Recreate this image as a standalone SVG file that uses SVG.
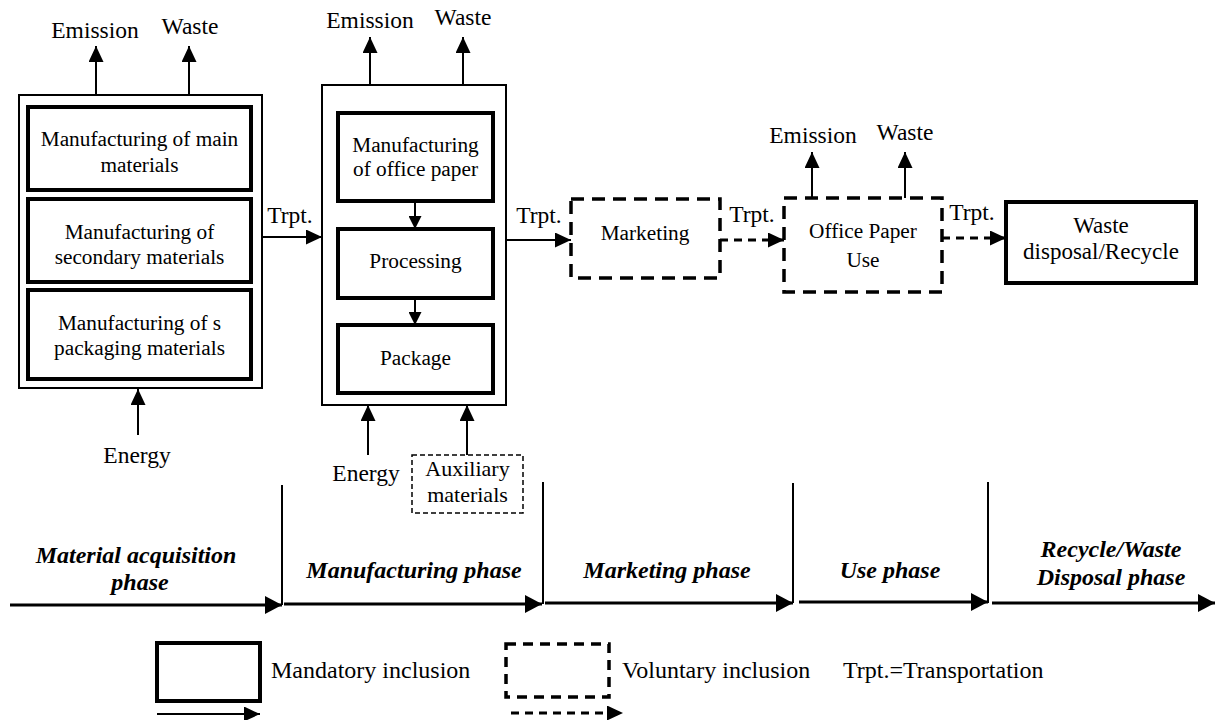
<svg xmlns="http://www.w3.org/2000/svg" width="1215" height="720" viewBox="0 0 1215 720" font-family="'Liberation Serif', 'Times New Roman', 'DejaVu Serif', serif">
<style>
text{font-family:'Liberation Serif','Times New Roman','DejaVu Serif',serif;fill:#000}
.lb{font-size:23.5px;text-anchor:middle}
.ax{font-size:22px;text-anchor:middle}
.bx{font-size:21.3px;text-anchor:middle}
.bxl{font-size:23px;text-anchor:middle}
.ph{font-size:24px;font-weight:bold;font-style:italic;text-anchor:middle}
.lg{font-size:24px}
.thin{fill:#fff;stroke:#000;stroke-width:2}
.thick{fill:#fff;stroke:#000;stroke-width:4}
.dash{fill:#fff;stroke:#000;stroke-width:3.5;stroke-dasharray:13 8}
.ln{fill:none;stroke:#000;stroke-width:2}
.dl{fill:none;stroke:#000;stroke-width:3;stroke-dasharray:8 6}
.tl{fill:none;stroke:#000;stroke-width:3}
</style>
<defs>
<marker id="ah" markerUnits="userSpaceOnUse" viewBox="0 0 16 15" refX="16" refY="7.5" markerWidth="16" markerHeight="15" orient="auto"><path d="M0,0 L16,7.5 L0,15 z" fill="#000"/></marker>
<marker id="ahs" markerUnits="userSpaceOnUse" viewBox="0 0 13 13" refX="13" refY="6.5" markerWidth="13" markerHeight="13" orient="auto"><path d="M0,0 L13,6.5 L0,13 z" fill="#000"/></marker>
<marker id="aht" markerUnits="userSpaceOnUse" viewBox="0 0 17 18" refX="17" refY="9" markerWidth="17" markerHeight="18" orient="auto"><path d="M0,0 L17,9 L0,18 z" fill="#000"/></marker>
</defs>
<rect width="1215" height="720" fill="#fff"/>

<g id="material-acquisition">
<rect class="thin" x="19" y="95" width="243" height="293"/>
<rect class="thick" x="28" y="107" width="223" height="83"/>
<text class="bx" x="139.5" y="146">Manufacturing of main</text>
<text class="bx" x="139.5" y="172">materials</text>
<rect class="thick" x="28" y="199" width="223" height="83"/>
<text class="bx" x="139.5" y="239">Manufacturing of</text>
<text class="bx" x="139.5" y="264">secondary materials</text>
<rect class="thick" x="28" y="290" width="223" height="89"/>
<text class="bx" x="139.5" y="330">Manufacturing of s</text>
<text class="bx" x="139.5" y="355">packaging materials</text>
</g>

<g id="manufacturing">
<rect class="thin" x="322" y="85" width="184" height="320"/>
<rect class="thick" x="338" y="113" width="155" height="88"/>
<text class="bx" x="415.5" y="152">Manufacturing</text>
<text class="bx" x="415.5" y="176">of office paper</text>
<rect class="thick" x="338" y="229" width="155" height="69"/>
<text class="bx" x="415.5" y="268">Processing</text>
<rect class="thick" x="338" y="325" width="155" height="68"/>
<text class="bx" x="415.5" y="365">Package</text>
</g>

<g id="marketing">
<rect class="dash" x="571" y="199" width="149" height="79"/>
<text class="bx" x="645" y="240">Marketing</text>
</g>

<g id="use">
<rect class="dash" x="784" y="198" width="158" height="94"/>
<text class="bx" x="863" y="238">Office Paper</text>
<text class="bx" x="863" y="267">Use</text>
</g>

<g id="waste-disposal">
<rect class="thick" x="1006" y="202" width="190" height="81"/>
<text class="bxl" x="1101" y="233">Waste</text>
<text class="bxl" x="1101" y="259">disposal/Recycle</text>
</g>

<g id="auxiliary">
<rect x="412" y="455" width="111" height="58" fill="#fff" stroke="#000" stroke-width="1.5" stroke-dasharray="5 3"/>
<text class="ax" x="467.5" y="476">Auxiliary</text>
<text class="ax" x="467.5" y="502">materials</text>
</g>

<g id="labels">
<text class="lb" x="95" y="38">Emission</text>
<text class="lb" x="190" y="34">Waste</text>
<text class="lb" x="137" y="463">Energy</text>
<text class="lb" x="370" y="28">Emission</text>
<text class="lb" x="463" y="25">Waste</text>
<text class="lb" x="366" y="481">Energy</text>
<text class="lb" x="813" y="143">Emission</text>
<text class="lb" x="905" y="140">Waste</text>
<text class="lb" x="290" y="223">Trpt.</text>
<text class="lb" x="539" y="223">Trpt.</text>
<text class="lb" x="752" y="222">Trpt.</text>
<text class="lb" x="972" y="220">Trpt.</text>
</g>

<g id="connectors">
<line class="ln" x1="96" y1="95" x2="96" y2="46" marker-end="url(#ah)"/>
<line class="ln" x1="189" y1="95" x2="189" y2="46" marker-end="url(#ah)"/>
<line class="ln" x1="138" y1="435" x2="138" y2="389" marker-end="url(#ah)"/>
<line class="ln" x1="262" y1="237" x2="322" y2="237" marker-end="url(#ah)"/>
<line class="ln" x1="370" y1="85" x2="370" y2="37" marker-end="url(#ah)"/>
<line class="ln" x1="463" y1="85" x2="463" y2="37" marker-end="url(#ah)"/>
<line class="ln" x1="415" y1="201" x2="415" y2="229" marker-end="url(#ahs)"/>
<line class="ln" x1="415" y1="298" x2="415" y2="325" marker-end="url(#ahs)"/>
<line class="ln" x1="368" y1="455" x2="368" y2="405" marker-end="url(#ah)"/>
<line class="ln" x1="467" y1="455" x2="467" y2="405" marker-end="url(#ah)"/>
<line class="ln" x1="506" y1="240" x2="571" y2="240" marker-end="url(#ah)"/>
<line class="dl" x1="720" y1="240" x2="784" y2="240" marker-end="url(#ah)"/>
<line class="ln" x1="812" y1="198" x2="812" y2="152" marker-end="url(#ah)"/>
<line class="ln" x1="905" y1="198" x2="905" y2="152" marker-end="url(#ah)"/>
<line class="dl" x1="942" y1="238" x2="1006" y2="238" marker-end="url(#ah)"/>
</g>

<g id="timeline">
<line class="ln" x1="282" y1="485" x2="282" y2="605"/>
<line class="ln" x1="543" y1="482" x2="543" y2="604"/>
<line class="ln" x1="793" y1="483" x2="793" y2="603"/>
<line class="ln" x1="988" y1="482" x2="988" y2="603"/>
<line class="tl" x1="10" y1="605" x2="282" y2="605" marker-end="url(#aht)"/>
<line class="tl" x1="284" y1="604" x2="542" y2="604" marker-end="url(#aht)"/>
<line class="tl" x1="545" y1="603" x2="793" y2="603" marker-end="url(#aht)"/>
<line class="tl" x1="799" y1="602" x2="988" y2="602" marker-end="url(#aht)"/>
<line class="tl" x1="992" y1="603" x2="1215" y2="603" marker-end="url(#aht)"/>
<text class="ph" x="136" y="563">Material acquisition</text>
<text class="ph" x="140" y="590">phase</text>
<text class="ph" x="414" y="578">Manufacturing phase</text>
<text class="ph" x="667" y="578">Marketing phase</text>
<text class="ph" x="890" y="578">Use phase</text>
<text class="ph" x="1111" y="557">Recycle/Waste</text>
<text class="ph" x="1111" y="585">Disposal phase</text>
</g>

<g id="legend">
<rect class="thick" x="157" y="643" width="103" height="58"/>
<line class="ln" x1="157" y1="714" x2="260" y2="714" marker-end="url(#ah)"/>
<text class="lg" x="271" y="678">Mandatory inclusion</text>
<rect x="506" y="644" width="103" height="53" fill="#fff" stroke="#000" stroke-width="3.5" stroke-dasharray="10 7"/>
<line class="dl" x1="511" y1="713" x2="623" y2="713" marker-end="url(#ah)"/>
<text class="lg" x="622" y="678">Voluntary inclusion</text>
<text class="lg" x="843" y="678">Trpt.=Transportation</text>
</g>
</svg>
